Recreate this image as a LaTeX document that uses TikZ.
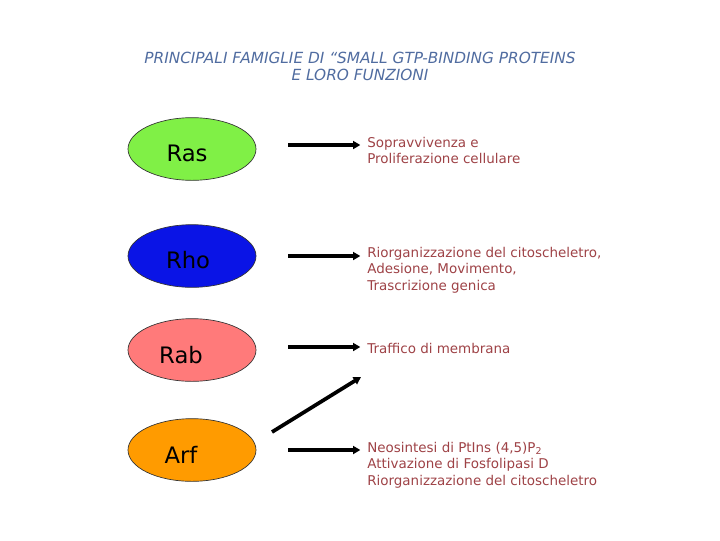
\documentclass[tikz,border=0pt]{standalone}
\usepackage{fontspec}
\setmainfont{DejaVu Sans}
\usetikzlibrary{shapes.geometric,arrows.meta,calc}
\definecolor{titleblue}{RGB}{80,108,160}
\definecolor{txtred}{RGB}{158,66,70}
\definecolor{rasgreen}{RGB}{128,240,70}
\definecolor{rhoblue}{RGB}{10,20,230}
\definecolor{rabpink}{RGB}{255,122,122}
\definecolor{arforange}{RGB}{255,155,0}
\tikzset{
  fam/.style={ellipse, draw=black!80, line width=0.5pt, minimum width=96pt, minimum height=47pt, inner sep=0pt, font=\fontsize{17}{20}\selectfont, text=black},
  famlabel/.style={font=\fontsize{17}{20}\selectfont, text=black, inner sep=0pt},
  func/.style={anchor=north west, inner sep=0pt, align=left, text=txtred, font=\fontsize{10.1}{12.2}\selectfont},
  arr/.style={line width=2.8pt, -{Triangle[length=5.5pt,width=6pt]}, shorten >=5pt},
}
\begin{document}
\begin{tikzpicture}[x=0.75pt,y=-0.75pt]
\useasboundingbox (0,0) rectangle (720,540);
\node[align=center, text=titleblue, font=\fontsize{11.5}{12.8}\selectfont\itshape] (title) at (360,66)
  {PRINCIPALI FAMIGLIE DI “SMALL GTP-BINDING PROTEINS\\E LORO FUNZIONI};
\node[fam, fill=rasgreen] (ras) at (192,149) {};
\node[fam, fill=rhoblue] (rho) at (192,256) {};
\node[fam, fill=rabpink] (rab) at (192,350) {};
\node[fam, fill=arforange] (arf) at (192,450) {};
\node[famlabel] (lras) at (187,153) {Ras};
\node[famlabel] (lrho) at (188,260) {Rho};
\node[famlabel] (lrab) at (181,355) {Rab};
\node[famlabel] (larf) at (181,455) {Arf};
\node[func] (f1) at (367,137) {Sopravvivenza e\\Proliferazione cellulare};
\node[func] (f2) at (367,247) {Riorganizzazione del citoscheletro,\\Adesione, Movimento,\\Trascrizione genica};
\node[func] (f3) at (367,343) {Traffico di membrana};
\node[func] (f4) at (367,442) {Neosintesi di PtIns (4,5)P\textsubscript{2}\\Attivazione di Fosfolipasi D\\Riorganizzazione del citoscheletro};
\coordinate (d1) at (272,432);
\coordinate (d2) at (361,377);
\draw[arr] ($(ras.east)+(32,-4)$) -- ($(ras.east -| f1.west)+(0,-4)$);
\draw[arr] ($(rho.east)+(32,0)$) -- (rho.east -| f2.west);
\draw[arr] ($(rab.east)+(32,-3)$) -- ($(rab.east -| f3.west)+(0,-3)$);
\draw[arr] ($(arf.east)+(32,0)$) -- (arf.east -| f4.west);
\draw[arr, shorten >=0pt] (d1) -- (d2);
\end{tikzpicture}
\end{document}
